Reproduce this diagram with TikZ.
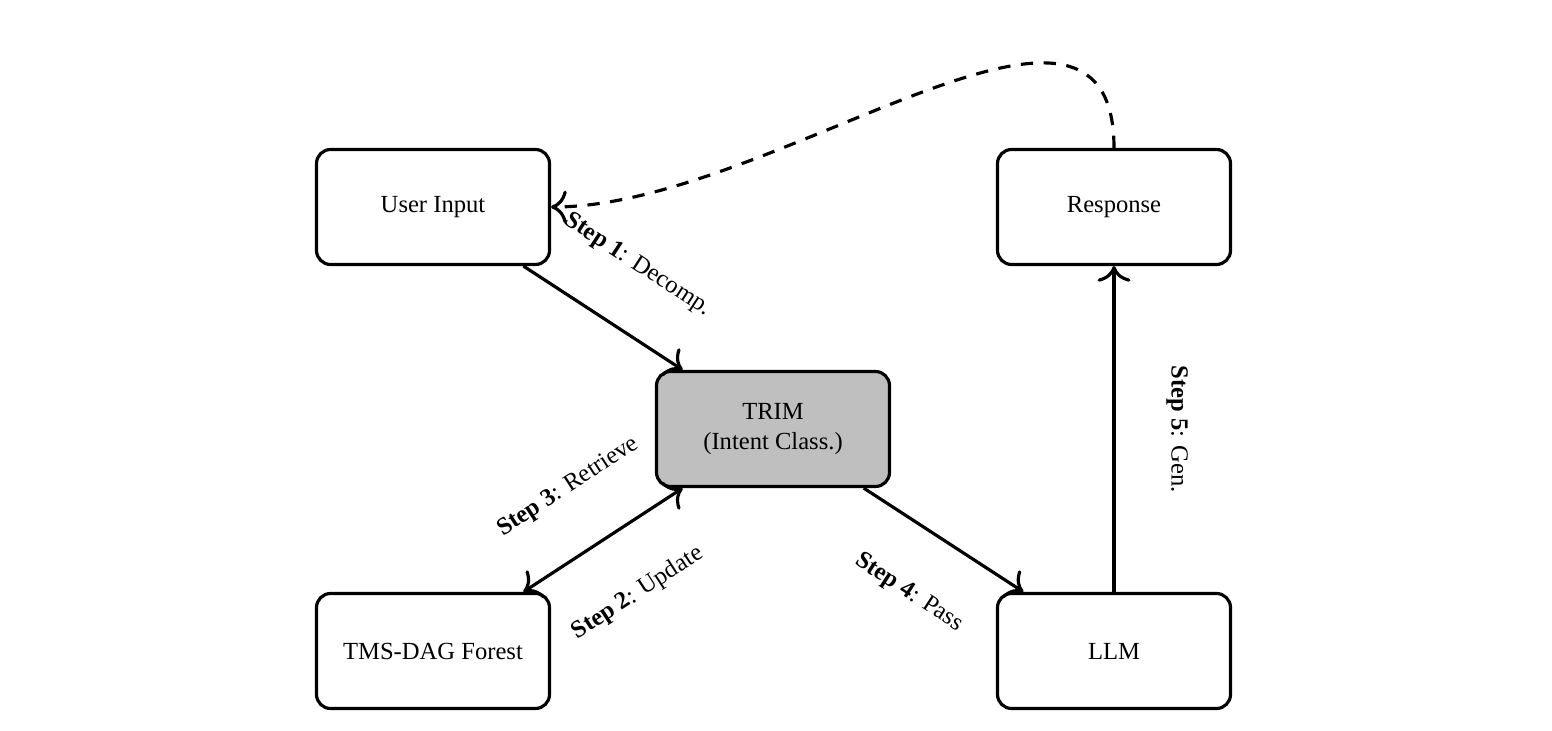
\documentclass[tikz,border=0pt]{standalone}
\usepackage{fontspec}
\setmainfont{Liberation Serif}
\usetikzlibrary{arrows.meta}
\begin{document}
\begin{tikzpicture}[every node/.style={font=\fontsize{14}{17}\selectfont},
	>={To[scale=1.6]},
	box/.style={draw, line width=1.8pt, rounded corners=8pt, minimum width=4.66cm, minimum height=2.3cm, align=center},
	trimbox/.style={box, fill=black!25},
	arr/.style={->, line width=1.8pt},
	steplbl/.style={midway, sloped}]
		\useasboundingbox (0,0) rectangle (31.04,14.6);
		\node[box] at (8.66,10.46) (user) {User Input};
		\node[box] at (22.28,10.46) (response) {Response};
		\node[trimbox] at (15.46,6.02) (trim) {TRIM\\(Intent Class.)};
		\node[box] at (8.66,1.58) (tms) {TMS-DAG Forest};
		\node[box] at (22.28,1.58) (llm) {LLM};
		
		\draw[arr] (user) -- node[steplbl, above=0.9cm] {\textbf{Step 1}: Decomp.} (trim);
		\draw[arr, <->] (tms) -- node[steplbl, above=0.9cm] {\textbf{Step 3}: Retrieve} node[steplbl, below=0.9cm] {\textbf{Step 2}: Update} (trim);
		\draw[arr] (trim) -- node[steplbl, below=0.9cm] {\textbf{Step 4}: Pass} (llm);
		\draw[arr, <-] (response) -- node[steplbl, above=0.9cm] {\textbf{Step 5}: Gen.} (llm);
		\draw[arr, dash pattern=on 7pt off 6pt] (response.north) to[out=90, in=0] (user.east);
		\end{tikzpicture}
\end{document}
